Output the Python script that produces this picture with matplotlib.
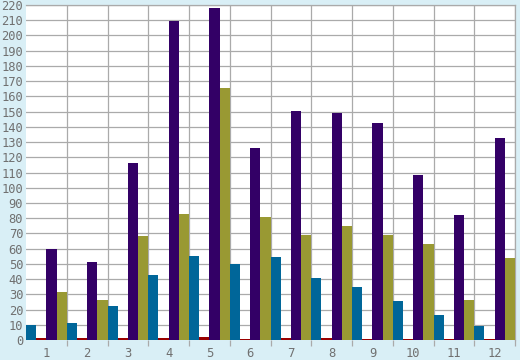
import numpy as np
import matplotlib
matplotlib.use("Agg")
import matplotlib.pyplot as plt

groups = ["1", "2", "3", "4", "5", "6", "7", "8", "9", "10", "11", "12"]
blue = [10, 11, 22.5, 42.5, 55, 50, 54.5, 40.5, 35, 25.5, 16.5, 9.5]
red = [1, 1, 1.5, 1.5, 2, 0.4, 1, 1, 0.5, 0.5, 0.5, 0.5]
purple = [60, 51, 116, 209.5, 218, 126, 150.5, 149, 142.5, 108.5, 82, 132.5]
olive = [31.5, 26.5, 68.5, 82.5, 165.5, 81, 69, 75, 69, 63, 26.5, 54]

series = [blue, red, purple, olive]
colors = ["#006699", "#990000", "#330066", "#999933"]

bg = "#d9eff6"
grid_c = "#aaaaaa"
text_c = "#707070"

fig = plt.figure(figsize=(5.2, 3.6), dpi=100, facecolor=bg)
ax = fig.add_axes([26/520, 20/360, 489/520, 335/360])
ax.set_facecolor("white")

n = len(groups)
x = np.arange(n)
w = 0.25
for i, (vals, c) in enumerate(zip(series, colors)):
    ax.bar(x + i*w, vals, width=w, align="edge", color=c, linewidth=0, zorder=3)

ax.set_xlim(0, n)
ax.set_ylim(0, 220)
ax.set_yticks(np.arange(0, 221, 10))
ax.set_xticks(x + 0.5)
ax.set_xticklabels(groups)
ax.set_xticks(np.arange(1, n + 1), minor=True)

ax.grid(True, which="major", axis="y", color=grid_c, linewidth=0.9, zorder=1)
ax.grid(True, which="minor", axis="x", color=grid_c, linewidth=0.9, zorder=1)

ax.tick_params(axis="x", which="major", length=0, pad=5, labelsize=8.7, labelcolor=text_c)
ax.tick_params(axis="x", which="minor", length=4, color=grid_c, width=0.9)
ax.tick_params(axis="y", length=0, pad=2, labelsize=8.7, labelcolor=text_c)
for lab in ax.get_xticklabels() + ax.get_yticklabels():
    lab.set_family("DejaVu Sans Mono")

ax.spines["left"].set_visible(False)
ax.spines["bottom"].set_visible(False)
for side in ["top", "right"]:
    ax.spines[side].set_color(grid_c)
    ax.spines[side].set_linewidth(0.9)

fig.savefig("out.png", dpi=100, facecolor=bg)
